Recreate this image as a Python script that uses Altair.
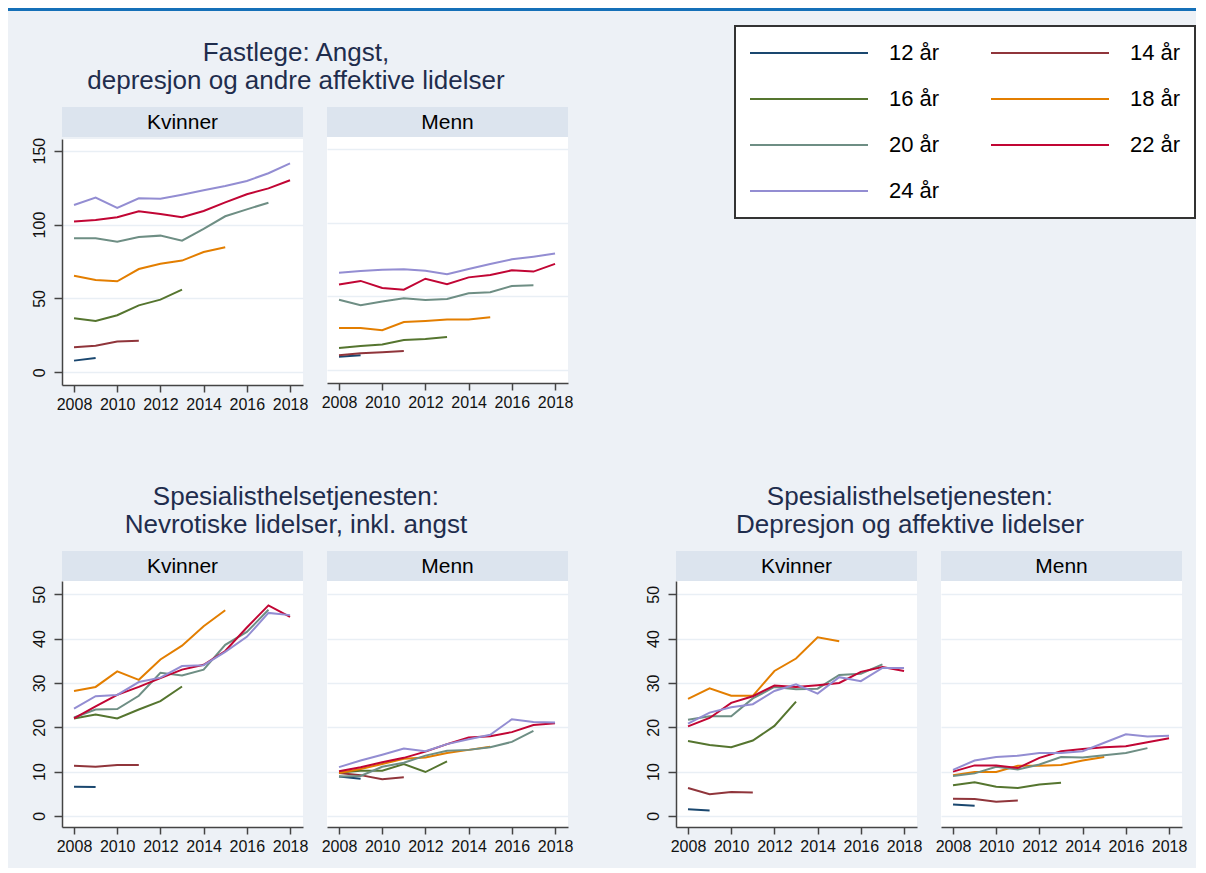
import altair as alt
import pandas as pd

FONT = "Liberation Sans"
BG = "#edf1f6"
HDR = "#dce4ee"
TITLE_C = "#1f2d4d"
BLUE = "#1570b8"

AGES = ["12 år", "14 år", "16 år", "18 år", "20 år", "22 år", "24 år"]
COLORS = ["#1a476f", "#90353b", "#55752f", "#e37e00", "#6e8e84", "#c10534", "#938dd2"]
# legend fills column by column (4 rows): order so rows read 12/14, 16/18, 20/22, 24
LEGEND_ORDER = ["12 år", "16 år", "20 år", "24 år", "14 år", "18 år", "22 år"]
LEGEND_COLORS = [COLORS[AGES.index(a)] for a in LEGEND_ORDER]
YEARS = [2008, 2009, 2010, 2011, 2012, 2013, 2014, 2015, 2016, 2017, 2018]
XTICKS = [2008, 2010, 2012, 2014, 2016, 2018]

# Fastlege: Angst, depresjon og andre affektive lidelser
fl_kvinner = {
    "12 år": [7.9, 9.7],
    "14 år": [16.9, 18.0, 20.8, 21.4],
    "16 år": [36.5, 34.7, 38.6, 45.3, 49.2, 55.9],
    "18 år": [65.4, 62.5, 61.6, 69.9, 73.5, 75.6, 81.4, 84.6],
    "20 år": [90.7, 90.7, 88.4, 91.6, 92.5, 89.1, 97.0, 105.6, 110.3, 114.8],
    "22 år": [102.0, 103.1, 104.9, 109.0, 107.2, 104.9, 109.2, 115.0, 120.5, 124.5, 130.0],
    "24 år": [113.2, 118.2, 111.2, 117.8, 117.5, 120.2, 123.2, 126.1, 129.5, 134.7, 141.4],
}
fl_menn = {
    "12 år": [9.2, 10.2],
    "14 år": [10.2, 11.5, 12.2, 13.1],
    "16 år": [15.1, 16.5, 17.4, 20.5, 21.2, 22.6],
    "18 år": [28.6, 28.6, 27.1, 32.7, 33.4, 34.3, 34.3, 35.9],
    "20 år": [47.8, 44.0, 46.5, 48.7, 47.6, 48.3, 52.1, 52.8, 57.1, 57.5],
    "22 år": [58.0, 60.5, 55.7, 54.6, 62.0, 58.2, 62.9, 64.5, 67.7, 66.8, 72.0],
    "24 år": [66.1, 67.2, 68.1, 68.4, 67.4, 65.0, 68.6, 72.0, 75.1, 76.9, 79.0],
}
# Spesialisthelsetjenesten: Nevrotiske lidelser, inkl. angst
nev_kvinner = {
    "12 år": [6.6, 6.5],
    "14 år": [11.3, 11.1, 11.5, 11.5],
    "16 år": [22.0, 22.9, 22.0, 24.0, 25.9, 29.2],
    "18 år": [28.2, 29.1, 32.6, 30.7, 35.3, 38.4, 42.8, 46.4],
    "20 år": [22.2, 24.0, 24.1, 27.1, 32.3, 31.7, 33.0, 38.6, 41.5, 46.5],
    "22 år": [22.0, 24.7, 27.3, 29.1, 31.1, 33.0, 34.1, 37.2, 42.5, 47.5, 44.9],
    "24 år": [24.2, 27.0, 27.3, 30.2, 31.2, 33.8, 34.0, 37.0, 40.4, 45.8, 45.3],
}
nev_menn = {
    "12 år": [8.9, 8.4],
    "14 år": [9.7, 9.2, 8.3, 8.7],
    "16 år": [9.8, 10.2, 10.2, 11.7, 9.9, 12.3],
    "18 år": [9.7, 10.6, 11.7, 12.9, 13.2, 14.2, 14.9, 15.6],
    "20 år": [8.9, 9.0, 11.1, 12.0, 13.6, 14.7, 14.9, 15.5, 16.7, 19.2],
    "22 år": [10.1, 11.0, 12.1, 13.1, 14.5, 16.2, 17.7, 18.0, 18.9, 20.5, 20.9],
    "24 år": [11.0, 12.5, 13.8, 15.2, 14.6, 16.2, 17.3, 18.3, 21.8, 21.2, 21.1],
}
# Spesialisthelsetjenesten: Depresjon og affektive lidelser
dep_kvinner = {
    "12 år": [1.5, 1.2],
    "14 år": [6.3, 4.9, 5.4, 5.3],
    "16 år": [16.9, 16.0, 15.5, 17.0, 20.3, 25.8],
    "18 år": [26.4, 28.8, 27.1, 27.1, 32.7, 35.5, 40.3, 39.4],
    "20 år": [21.7, 22.5, 22.5, 26.5, 29.1, 28.6, 28.7, 31.8, 32.1, 34.2],
    "22 år": [20.2, 22.1, 25.5, 27.0, 29.4, 29.1, 29.5, 30.0, 32.5, 33.6, 32.7],
    "24 år": [20.8, 23.3, 24.5, 25.2, 28.2, 29.7, 27.6, 31.3, 30.4, 33.4, 33.4],
}
dep_menn = {
    "12 år": [2.6, 2.3],
    "14 år": [3.9, 3.8, 3.2, 3.5],
    "16 år": [6.9, 7.6, 6.6, 6.3, 7.1, 7.5],
    "18 år": [9.2, 9.9, 9.9, 11.3, 11.3, 11.5, 12.5, 13.3],
    "20 år": [9.0, 9.6, 11.1, 10.5, 11.6, 13.3, 13.2, 13.7, 14.2, 15.3],
    "22 år": [10.0, 11.4, 11.4, 10.8, 13.1, 14.6, 15.1, 15.5, 15.7, 16.6, 17.5],
    "24 år": [10.4, 12.5, 13.3, 13.6, 14.2, 14.2, 14.6, 16.5, 18.4, 17.9, 18.1],
}


def to_long(series):
    rows = []
    for age in AGES:
        for yr, v in zip(YEARS, series[age]):
            rows.append({"age": age, "year": yr, "value": v})
    return pd.DataFrame(rows)


W, H, HH = 241, 246, 30
XDOM = [2007.444, 2018.6]

LEG = alt.Legend(
    orient="none", legendX=727, legendY=18, title=None, columns=2,
    symbolType="stroke", symbolSize=13924, symbolStrokeWidth=2,
    clipHeight=26, rowPadding=20, columnPadding=50,
    labelFontSize=22, labelFont=FONT, labelColor="black", labelOffset=20,
    padding=14, fillColor="white", strokeColor="#333333",
)


def header(label):
    d = pd.DataFrame({"lab": [label]})
    base = alt.Chart(d)
    rect = base.mark_rect(fill=HDR).encode(
        x=alt.value(0), x2=alt.value(W), y=alt.value(0), y2=alt.value(HH)
    )
    txt = base.mark_text(font=FONT, fontSize=21, color="black",
                         baseline="middle", align="center").encode(
        x=alt.value(W / 2), y=alt.value(HH / 2 + 1), text="lab:N"
    )
    return (rect + txt).properties(width=W, height=HH)


def plot(series, ydom, yvals, show_y):
    if show_y:
        yaxis = alt.Axis(values=yvals, title=None, labelAngle=-90, labelAlign="center",
                         labelBaseline="bottom", labelFontSize=16, labelFont=FONT,
                         labelColor="#111111", tickSize=8, labelPadding=7,
                         tickColor="#444444", domainColor="#444444",
                         tickWidth=1.5, domainWidth=1.5,
                         grid=True, gridColor="#e9eff5", gridWidth=1.5)
    else:
        yaxis = alt.Axis(values=yvals, title=None, labels=False, ticks=False,
                         domain=False, grid=True, gridColor="#e9eff5", gridWidth=1.5)
    xaxis = alt.Axis(values=XTICKS, format="d", title=None, grid=False,
                     labelFontSize=16, labelFont=FONT, labelColor="#111111",
                     tickSize=7, labelPadding=4, labelFlush=False,
                     tickColor="#444444", domainColor="#444444",
                     tickWidth=1.5, domainWidth=1.5)
    return alt.Chart(to_long(series)).mark_line(strokeWidth=2).encode(
        x=alt.X("year:Q", scale=alt.Scale(domain=XDOM, nice=False, zero=False), axis=xaxis),
        y=alt.Y("value:Q", scale=alt.Scale(domain=ydom, nice=False, zero=False), axis=yaxis),
        color=alt.Color("age:N", scale=alt.Scale(domain=LEGEND_ORDER, range=LEGEND_COLORS),
                        legend=LEG),
        order=alt.Order("year:Q"),
    ).properties(width=W, height=H, view=alt.ViewBackground(fill="white", stroke=None))


def group(title_lines, k, m, ydom, yvals):
    kp = alt.vconcat(header("Kvinner"), plot(k, ydom, yvals, True), spacing=0)
    mp = alt.vconcat(header("Menn"), plot(m, ydom, yvals, False), spacing=0)
    return alt.hconcat(kp, mp, spacing=13).properties(
        title=alt.TitleParams(text=title_lines, fontSize=26, font=FONT, color=TITLE_C,
                              fontWeight="normal", anchor="middle", lineHeight=28,
                              offset=13, dx=-6)
    )


g1 = group(["Fastlege: Angst,", "depresjon og andre affektive lidelser"],
           fl_kvinner, fl_menn, [-8.6, 157.9], [0, 50, 100, 150])
g2 = group(["Spesialisthelsetjenesten:", "Nevrotiske lidelser, inkl. angst"],
           nev_kvinner, nev_menn, [-2.5, 53.0], [0, 10, 20, 30, 40, 50])
g3 = group(["Spesialisthelsetjenesten:", "Depresjon og affektive lidelser"],
           dep_kvinner, dep_menn, [-2.5, 53.0], [0, 10, 20, 30, 40, 50])

row2 = alt.hconcat(g2, g3, spacing=71)
body_inner = alt.vconcat(g1, row2, spacing=72)

one = pd.DataFrame({"a": [0]})
spacer = alt.Chart(one).mark_rect(opacity=0).encode(
    x=alt.value(0), x2=alt.value(1), y=alt.value(0), y2=alt.value(1)
).properties(width=22, height=10, view=alt.ViewBackground(fill=None, stroke=None))

body = alt.hconcat(spacer, body_inner, spacing=0)

bar = alt.Chart(one).mark_rect(fill=BLUE).encode(
    x=alt.value(0), x2=alt.value(1188), y=alt.value(0), y2=alt.value(3)
).properties(width=1188, height=3, view=alt.ViewBackground(fill=None, stroke=None))

chart = alt.vconcat(bar, body, spacing=29).properties(
    background=BG, padding={"left": 0, "top": 0, "right": 0, "bottom": 14}
).configure_view(stroke=None).configure_legend(strokeWidth=2).resolve_scale(color="shared")

chart.save("out.html", embed_options={"renderer": "svg", "actions": False})
